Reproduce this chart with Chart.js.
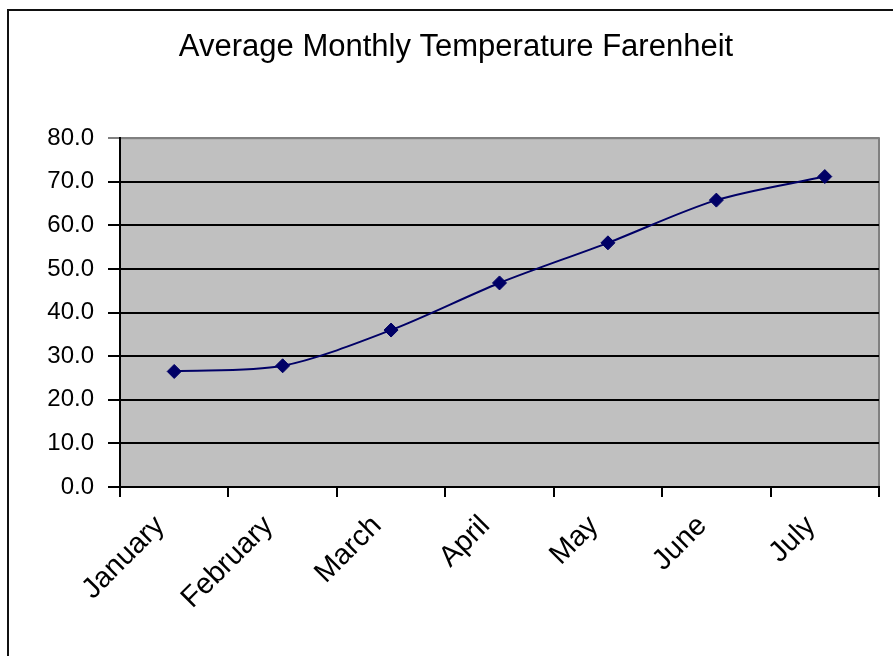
<!DOCTYPE html>
<html>
<head>
<meta charset="utf-8">
<script src="https://cdn.jsdelivr.net/npm/chart.js@4/dist/chart.umd.min.js"></script>
<style>
  html, body { margin: 0; padding: 0; background: #ffffff; }
  #wrap { position: relative; width: 893px; height: 656px; }
</style>
</head>
<body>
<div id="wrap"><canvas id="c" width="893" height="656"></canvas></div>
<script>
const categories = ["January", "February", "March", "April", "May", "June", "July"];
const temperatures = [26.5, 27.8, 36.0, 46.8, 56.0, 65.8, 71.2];
const yTicks = [0, 10, 20, 30, 40, 50, 60, 70, 80];
const chartTitle = "Average Monthly Temperature Farenheit";

const FONT = "'Liberation Sans', Arial, sans-serif";

const framePlugin = {
  id: 'frame',
  beforeDraw(chart) {
    const { ctx, chartArea: a } = chart;
    ctx.save();
    ctx.fillStyle = '#ffffff';
    ctx.fillRect(0, 0, chart.width, chart.height);
    ctx.fillStyle = '#c0c0c0';
    ctx.fillRect(a.left, a.top, a.right - a.left, a.bottom - a.top);
    ctx.strokeStyle = '#808080';
    ctx.lineWidth = 2;
    ctx.strokeRect(a.left, a.top, a.right - a.left, a.bottom - a.top);
    // outer chart frame (left and top)
    ctx.strokeStyle = '#111111';
    ctx.lineWidth = 2;
    ctx.beginPath();
    ctx.moveTo(8, chart.height);
    ctx.lineTo(8, 10);
    ctx.lineTo(chart.width, 10);
    ctx.stroke();
    ctx.restore();
  }
};

new Chart(document.getElementById('c'), {
  type: 'line',
  data: {
    labels: categories,
    datasets: [{
      data: temperatures,
      borderColor: '#000066',
      borderWidth: 2,
      backgroundColor: '#000066',
      pointStyle: 'rectRot',
      pointRadius: 7,
      pointBorderWidth: 1,
      pointBorderColor: '#000066',
      pointBackgroundColor: '#000066',
      tension: 0.3,
      fill: false
    }]
  },
  options: {
    responsive: false,
    animation: false,
    devicePixelRatio: 1,
    layout: { padding: { left: 33, right: 14, top: 0, bottom: 0 } },
    plugins: {
      legend: { display: false },
      tooltip: { enabled: false },
      title: {
        display: true,
        text: chartTitle,
        color: '#000000',
        font: { family: FONT, size: 31, weight: 'normal' },
        padding: { top: 29, bottom: 72 }
      }
    },
    scales: {
      x: {
        offset: true,
        grid: {
          offset: true,
          drawOnChartArea: false,
          drawTicks: true,
          tickLength: 10,
          color: '#000000',
          lineWidth: 2
        },
        border: { display: true, color: '#000000', width: 2 },
        ticks: {
          color: '#000000',
          font: { family: FONT, size: 29 },
          minRotation: 45,
          maxRotation: 45,
          padding: 12,
          labelOffset: -14,
          autoSkip: false
        },
        afterFit(scale) { scale.height = 169; }
      },
      y: {
        min: 0,
        max: 80,
        afterBuildTicks(scale) { scale.ticks = yTicks.map(v => ({ value: v })); },
        grid: {
          color: (c) => (c.tick && c.tick.value === 80) ? '#808080' : '#000000',
          lineWidth: 2,
          drawTicks: true,
          tickLength: 12
        },
        border: { display: true, color: '#000000', width: 2 },
        ticks: {
          color: '#000000',
          font: { family: FONT, size: 24 },
          padding: 14,
          callback: (v) => Number(v).toFixed(1)
        },
        afterFit(scale) { scale.width = 87; }
      }
    }
  },
  plugins: [framePlugin]
});
</script>
</body>
</html>
